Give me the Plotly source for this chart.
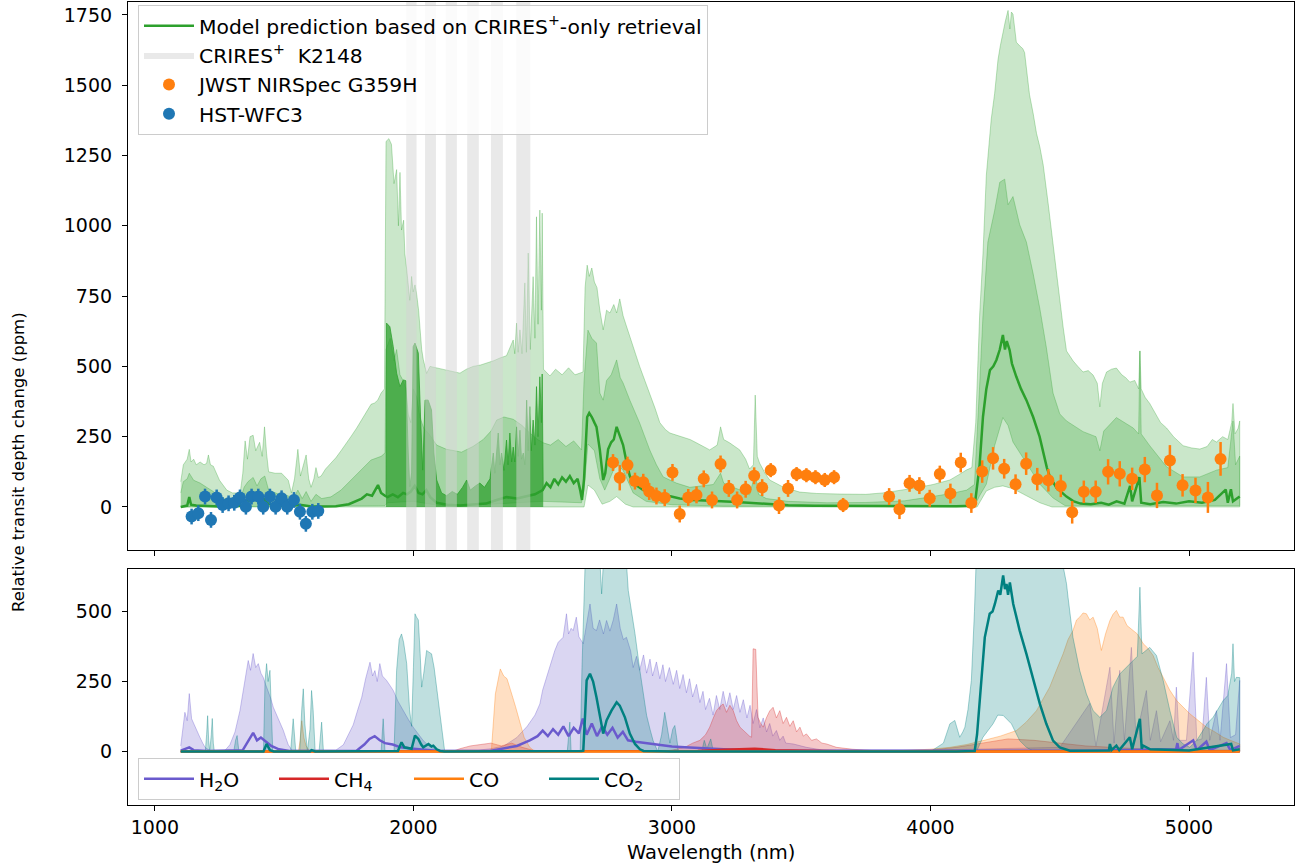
import plotly.graph_objects as go

# ------------------------------------------------------------------ data
# HST-WFC3 points
hst_wl = [1142, 1168, 1194, 1217, 1239, 1262, 1285, 1307, 1329, 1352, 1374,
          1400, 1419, 1445, 1467, 1490, 1512, 1538, 1561, 1584, 1609, 1632]
hst_ppm = [-34, -22, 37, -46, 34, 7, 13, 15, 34, 1, 37,
           37, 1, 37, 1, 31, 1, 25, -17, -60, -17, -14]
hst_err = [28] * len(hst_wl)

# JWST NIRSpec points
jwst_wl = [2772, 2798, 2828, 2857, 2889, 2912, 2940, 2972, 3002, 3030, 3063, 3095,
           3123, 3155, 3188, 3220, 3252, 3285, 3318, 3349, 3382, 3414, 3449, 3482,
           3520, 3555, 3591, 3627, 3662, 3840, 3880, 3919, 3957, 3997, 4036, 4077,
           4117, 4158, 4200, 4242, 4285, 4329, 4370, 4413, 4456, 4504, 4548, 4593,
           4639, 4687, 4732, 4780, 4829, 4876, 4926, 4975, 5025, 5073, 5122]
jwst_ppm = [158, 104, 149, 92, 88, 55, 39, 33, 123, -25, 34, 43,
            100, 25, 153, 66, 25, 63, 111, 69, 131, 5, 66, 117,
            113, 106, 96, 106, 7, 37, -8, 84, 76, 31, 117, 48,
            158, 14, 126, 173, 136, 81, 154, 99, 95, 75, -19, 54,
            54, 125, 118, 100, 133, 41, 165, 77, 59, 34, 171]
jwst_err = [30, 45, 30, 30, 30, 30, 30, 30, 30, 30, 30, 30,
            30, 30, 30, 30, 30, 30, 30, 30, 25, 30, 30, 25,
            25, 25, 25, 25, 25, 30, 35, 30, 30, 30, 30, 35,
            35, 35, 40, 40, 35, 35, 40, 40, 40, 40, 40, 40,
            40, 45, 45, 40, 45, 45, 55, 40, 45, 55, 60]

# Model (CRIRES+-only retrieval): median, 1-sigma and 2-sigma envelopes
med_wl = [1100, 1110, 1125, 1133, 1140, 1160, 1200, 1250, 1300, 1340, 1355, 1370, 1390, 1405,
          1420, 1440, 1480, 1520, 1560, 1600, 1650, 1700, 1750, 1800, 1820, 1840, 1863, 1875,
          1890, 1900, 1920, 1940, 1960, 1975, 1990, 2005, 2020, 2035, 2050, 2065, 2090, 2130,
          2180, 2230, 2280, 2322, 2360, 2400, 2440, 2470, 2500, 2515, 2530, 2545, 2560, 2575,
          2590, 2605, 2620, 2635, 2645, 2652, 2660, 2672, 2680, 2690, 2700, 2708, 2721, 2734,
          2742, 2753, 2765, 2775, 2786, 2798, 2811, 2825, 2837, 2850, 2889, 2940, 2992, 3030,
          3080, 3130, 3190, 3250, 3300, 3370, 3450, 3550, 3700, 3900, 4100, 4165, 4171, 4190,
          4203, 4216, 4230, 4243, 4255, 4268, 4280, 4288, 4295, 4306, 4315, 4332, 4350, 4371,
          4397, 4422, 4434, 4450, 4461, 4487, 4526, 4552, 4580, 4620, 4660, 4690, 4720, 4750,
          4772, 4780, 4808, 4815, 4850, 4900, 4950, 5000, 5050, 5100, 5142, 5150, 5162, 5170, 5196]
med_ppm = [0, 3, 5, 35, 8, 5, 3, 2, 2, 5, 25, 20, 40, 18,
           30, 10, 5, 3, 8, 3, 2, 3, 10, 30, 45, 40, 78, 50,
           40, 35, 45, 35, 50, 45, 55, 75, 50, 45, 60, 35, 15, 8,
           5, 8, 12, 25, 35, 30, 40, 45, 60, 85, 70, 100, 80, 105,
           90, 110, 85, 100, 60, 25, 100, 320, 334, 320, 300, 285, 203, 96,
           120, 205, 230, 240, 285, 250, 220, 156, 110, 85, 60, 50, 37, 30,
           25, 22, 20, 18, 15, 11, 6, 4, 3, 3, 3, 4, 5, 150,
           321, 420, 487, 500, 523, 560, 612, 560, 590, 558, 510, 463, 420, 380,
           320, 250, 200, 140, 110, 69, 37, 21, 12, 10, 15, 8, 20, 12,
           75, 20, 106, 15, 10, 18, 12, 20, 15, 25, 62, 15, 63, 20, 37]

hi1_wl = [1100, 1110, 1125, 1133, 1150, 1175, 1200, 1226, 1250, 1280, 1330, 1345, 1360, 1380,
          1395, 1410, 1425, 1440, 1480, 1516, 1530, 1553, 1570, 1585, 1604, 1623, 1645, 1681,
          1720, 1758, 1800, 1836, 1875, 1890, 1894, 1910, 1925, 1935, 1948, 1960, 1971, 1980,
          1990, 2000, 2013, 2025, 2040, 2060, 2090, 2128, 2160, 2186, 2230, 2270, 2300, 2322,
          2350, 2386, 2420, 2450, 2480, 2503, 2530, 2560, 2590, 2620, 2650, 2660, 2675, 2690,
          2708, 2721, 2734, 2747, 2765, 2786, 2800, 2811, 2837, 2875, 2914, 2940, 2966, 3017,
          3069, 3120, 3160, 3188, 3200, 3236, 3280, 3300, 3322, 3335, 3365, 3450, 3600, 3750,
          3900, 4000, 4080, 4140, 4170, 4190, 4203, 4222, 4248, 4268, 4287, 4300, 4319, 4345,
          4371, 4397, 4423, 4448, 4474, 4500, 4526, 4590, 4640, 4655, 4670, 4719, 4784, 4805,
          4810, 4815, 4848, 4913, 4977, 5042, 5106, 5150, 5170, 5180, 5196]
hi1_ppm = [50, 90, 100, 120, 95, 85, 70, 55, 35, 25, 25, 70, 90, 105,
           75, 100, 110, 60, 45, 40, 20, 60, 30, 55, 20, 45, 30, 36,
           60, 96, 135, 167, 180, 192, 560, 600, 520, 560, 470, 450, 420, 330,
           300, 420, 390, 320, 280, 260, 220, 205, 200, 195, 215, 240, 270, 309,
           320, 312, 290, 263, 240, 228, 220, 240, 215, 235, 203, 450, 629, 600,
           583, 405, 380, 450, 470, 523, 460, 441, 380, 299, 203, 150, 107, 85,
           70, 75, 80, 120, 85, 70, 55, 43, 120, 45, 30, 20, 15, 16,
           22, 36, 48, 60, 80, 430, 680, 942, 1054, 1155, 1166, 1075, 1104, 1004,
           942, 830, 705, 568, 405, 331, 306, 268, 250, 200, 270, 318, 281, 260,
           555, 260, 218, 143, 107, 107, 131, 140, 306, 150, 181]

lo1_wl = [1100, 1890, 1900, 2000, 2100, 2300, 2500, 2650, 2660, 2675, 2700, 2721, 2740, 2786,
          2811, 2850, 2900, 3000, 3200, 4170, 4190, 4216, 4248, 4280, 4300, 4319, 4371, 4423,
          4474, 4520, 5196]
lo1_ppm = [0, 5, 15, 20, 5, 10, 20, 15, 60, 224, 200, 100, 60, 156,
           130, 50, 20, 8, 3, 3, 40, 81, 218, 318, 290, 231, 156, 81,
           32, 5, 5]

hi2_wl = [1100, 1110, 1125, 1133, 1140, 1150, 1160, 1175, 1190, 1200, 1207, 1215, 1226, 1250,
          1278, 1300, 1330, 1340, 1349, 1358, 1368, 1380, 1390, 1405, 1415, 1424, 1432, 1440,
          1465, 1490, 1516, 1528, 1540, 1553, 1563, 1575, 1585, 1595, 1604, 1615, 1623, 1632,
          1643, 1660, 1681, 1700, 1720, 1740, 1758, 1780, 1800, 1820, 1836, 1850, 1862, 1875,
          1888, 1894, 1905, 1915, 1925, 1935, 1942, 1948, 1954, 1962, 1967, 1974, 1980, 1986,
          1993, 1999, 2006, 2012, 2020, 2025, 2032, 2038, 2051, 2064, 2090, 2128, 2160, 2180,
          2205, 2231, 2260, 2283, 2310, 2335, 2360, 2386, 2392, 2399, 2405, 2412, 2420, 2431,
          2437, 2444, 2452, 2463, 2470, 2476, 2482, 2489, 2495, 2498, 2503, 2528, 2550, 2575,
          2600, 2625, 2645, 2656, 2664, 2672, 2680, 2690, 2700, 2710, 2721, 2734, 2747, 2760,
          2775, 2786, 2798, 2811, 2825, 2837, 2856, 2875, 2895, 2914, 2935, 2953, 2975, 2992,
          3020, 3043, 3070, 3095, 3120, 3146, 3175, 3188, 3200, 3223, 3262, 3285, 3300, 3315,
          3322, 3330, 3339, 3360, 3378, 3400, 3430, 3494, 3560, 3650, 3750, 3816, 3880, 3945,
          4010, 4075, 4110, 4140, 4160, 4175, 4190, 4203, 4216, 4235, 4248, 4261, 4270, 4280,
          4290, 4300, 4307, 4313, 4319, 4326, 4332, 4345, 4357, 4364, 4383, 4397, 4410, 4423,
          4436, 4455, 4474, 4487, 4500, 4513, 4526, 4552, 4570, 4590, 4610, 4629, 4645, 4655,
          4665, 4681, 4700, 4719, 4740, 4755, 4771, 4790, 4805, 4810, 4815, 4830, 4848, 4870,
          4890, 4913, 4940, 4977, 5010, 5042, 5070, 5090, 5106, 5130, 5150, 5165, 5170, 5178,
          5190, 5196]
hi2_ppm = [90, 150, 170, 205, 160, 170, 150, 160, 150, 155, 185, 150, 145, 95,
           60, 50, 50, 120, 235, 170, 250, 255, 200, 230, 180, 285, 190, 125,
           120, 120, 95, 50, 100, 205, 110, 150, 185, 100, 70, 100, 140, 105,
           110, 135, 155, 175, 200, 225, 250, 280, 310, 340, 365, 370, 380, 405,
           420, 1300, 1310, 1290, 1150, 1200, 1000, 1190, 985, 1020, 900, 845, 780, 735,
           820, 765, 790, 760, 700, 640, 560, 525, 475, 500, 495, 487, 480, 476,
           490, 500, 505, 511, 520, 530, 538, 594, 545, 654, 550, 630, 545, 797,
           550, 903, 560, 819, 600, 1032, 650, 1056, 700, 1045, 490, 466, 490, 470,
           495, 470, 475, 480, 780, 860, 820, 850, 800, 780, 700, 630, 700, 690,
           720, 690, 740, 680, 640, 605, 550, 500, 450, 405, 350, 300, 275, 263,
           255, 249, 240, 228, 215, 203, 220, 285, 240, 228, 203, 170, 135, 150,
           398, 180, 156, 120, 96, 85, 71, 53, 48, 46, 45, 50, 58, 68,
           80, 96, 115, 132, 140, 300, 680, 900, 1180, 1380, 1470, 1590, 1640, 1690,
           1730, 1766, 1700, 1760, 1753, 1700, 1653, 1640, 1630, 1616, 1466, 1400, 1329, 1280,
           1216, 1080, 930, 840, 743, 640, 555, 519, 500, 480, 485, 469, 440, 356,
           440, 480, 490, 494, 470, 460, 444, 450, 420, 555, 420, 390, 368, 330,
           300, 281, 250, 218, 210, 206, 215, 240, 231, 250, 240, 300, 368, 260,
           280, 306]

lo2_wl = [1100, 2660, 2675, 2700, 2730, 2760, 2786, 2820, 2850, 4180, 4216, 4248, 4280, 4319,
          4371, 4423, 4470, 5196]
lo2_ppm = [0, 0, 78, 60, 10, 20, 37, 10, 0, 0, 57, 70, 75, 65,
           40, 15, 0, 0]

# High-resolution part of the model (densely packed lines in the CRIRES+ range)
dense_wl = [1894, 1896, 1909, 1922, 1935, 1948, 1961, 1971, 1980, 1986, 1993, 1999, 2006, 2019,
            2028, 2036, 2045, 2057, 2070, 2079, 2090, 2109, 2128, 2150, 2170, 2190, 2206, 2220,
            2240, 2257, 2275, 2296, 2309, 2315, 2328, 2335, 2341, 2350, 2360, 2366, 2373, 2380,
            2386, 2392, 2399, 2405, 2412, 2418, 2425, 2431, 2438, 2444, 2450, 2456, 2463, 2470,
            2476, 2482, 2489, 2495, 2498, 2502]
dense_ppm = [40, 654, 641, 570, 476, 428, 452, 449, 192, 72, 121, 570, 583, 547,
             309, 131, 380, 380, 345, 192, 96, 50, 40, 55, 45, 70, 96, 60,
             75, 85, 70, 100, 192, 120, 263, 150, 192, 130, 238, 150, 263, 160,
             213, 160, 285, 180, 273, 170, 192, 150, 380, 200, 357, 200, 309, 220,
             428, 250, 463, 300, 473, 60]

# CRIRES+ K2148 order coverage (nm)
crires_start = [1972, 2045, 2125, 2208, 2300, 2398]
crires_end = [2012, 2087, 2168, 2253, 2346, 2452]

# ---- bottom panel: individual molecule contributions
h2o_hi_wl = [1100, 1108, 1116, 1125, 1133, 1142, 1150, 1155, 1165, 1174, 1185, 1194, 1213, 1270,
             1290, 1310, 1329, 1345, 1361, 1370, 1380, 1390, 1400, 1410, 1419, 1428, 1438, 1448,
             1458, 1467, 1477, 1487, 1497, 1506, 1516, 1530, 1700, 1729, 1748, 1767, 1785, 1800,
             1815, 1832, 1842, 1851, 1860, 1870, 1880, 1896, 1910, 1922, 1940, 1960, 1980, 1999,
             2020, 2038, 2060, 2090, 2250, 2300, 2350, 2400, 2440, 2470, 2489, 2500, 2515, 2530,
             2547, 2560, 2579, 2592, 2600, 2610, 2618, 2630, 2640, 2657, 2670, 2683, 2695, 2708,
             2720, 2735, 2747, 2760, 2773, 2786, 2800, 2812, 2824, 2840, 2850, 2863, 2875, 2890,
             2902, 2915, 2925, 2940, 2953, 2965, 2975, 2990, 3005, 3018, 3030, 3043, 3056, 3068,
             3080, 3095, 3108, 3120, 3130, 3145, 3159, 3172, 3185, 3198, 3211, 3224, 3237, 3250,
             3263, 3276, 3290, 3302, 3314, 3327, 3340, 3353, 3366, 3378, 3390, 3404, 3417, 3430,
             3440, 3469, 3520, 3585, 4000, 4500, 4616, 4640, 4694, 4710, 4732, 4750, 4777, 4795,
             4835, 4850, 4874, 4890, 4926, 4940, 4951, 4962, 4990, 5016, 5030, 5050, 5067, 5080,
             5106, 5120, 5145, 5160, 5180, 5196]
h2o_hi = [20, 90, 140, 110, 207, 117, 100, 87, 70, 51, 30, 15, 3, 3,
          24, 70, 146, 230, 325, 290, 350, 300, 314, 280, 265, 240, 218, 190,
          158, 140, 117, 95, 75, 50, 24, 5, 5, 24, 60, 95, 150, 194,
          260, 319, 270, 289, 250, 314, 270, 254, 235, 218, 180, 146, 115, 87,
          60, 39, 20, 5, 5, 10, 20, 50, 90, 130, 170, 220, 265, 310,
          361, 390, 408, 492, 420, 440, 432, 480, 410, 385, 450, 527, 440, 432,
          470, 420, 468, 430, 470, 527, 440, 400, 408, 360, 300, 340, 290, 345,
          280, 330, 270, 320, 260, 310, 250, 300, 240, 290, 225, 275, 210, 260,
          195, 240, 175, 215, 150, 190, 130, 200, 150, 215, 160, 210, 150, 200,
          140, 185, 120, 165, 100, 150, 85, 120, 70, 100, 55, 75, 40, 55,
          30, 27, 15, 5, 5, 15, 172, 20, 301, 30, 290, 40, 372, 50,
          218, 40, 146, 35, 110, 40, 230, 40, 40, 355, 40, 45, 265, 40,
          146, 40, 314, 50, 60, 254]
h2o_med_wl = [1100, 1120, 1133, 1150, 1200, 1340, 1360, 1380, 1395, 1410, 1430, 1450, 1480, 1520,
              1780, 1810, 1830, 1850, 1870, 1890, 1920, 1950, 2000, 2050, 2100, 2300, 2400, 2450,
              2480, 2500, 2520, 2540, 2560, 2580, 2600, 2620, 2640, 2655, 2670, 2690, 2710, 2730,
              2750, 2770, 2790, 2810, 2830, 2860, 2900, 2950, 3000, 3050, 3100, 3200, 3300, 3400,
              4600, 4950, 4955, 4960, 5016, 5030, 5067, 5080, 5145, 5160, 5196]
h2o_med = [3, 10, 15, 5, 2, 5, 35, 67, 40, 50, 35, 20, 8, 2,
           3, 25, 45, 55, 40, 30, 25, 15, 10, 5, 2, 3, 20, 40,
           55, 75, 55, 80, 60, 90, 55, 85, 65, 118, 60, 100, 55, 90,
           60, 85, 50, 70, 40, 35, 30, 25, 18, 15, 12, 8, 5, 3,
           3, 8, 30, 5, 40, 5, 35, 5, 30, 5, 20]

ch4_hi_wl = [1100, 2150, 2180, 2220, 2260, 2300, 2340, 2380, 2420, 2460, 2500, 2950, 3000, 3050,
             3080, 3108, 3130, 3146, 3160, 3172, 3185, 3198, 3211, 3224, 3237, 3250, 3263, 3276,
             3288, 3300, 3308, 3314, 3324, 3333, 3343, 3353, 3365, 3378, 3391, 3404, 3417, 3430,
             3443, 3456, 3469, 3482, 3495, 3508, 3520, 3540, 3559, 3580, 3598, 3636, 3700, 3800,
             4000, 4100, 4200, 4300, 4400, 4500, 4600, 4700, 4800, 4900, 5196]
ch4_hi = [0, 0, 10, 20, 25, 30, 20, 30, 15, 5, 0, 0, 5, 15,
          30, 40, 60, 87, 120, 146, 160, 170, 140, 165, 146, 110, 87, 75,
          63, 55, 51, 367, 365, 122, 100, 87, 120, 145, 158, 120, 146, 100,
          122, 90, 110, 70, 87, 55, 63, 40, 45, 30, 27, 15, 8, 2,
          5, 15, 30, 45, 40, 30, 20, 15, 10, 5, 5]
ch4_med_wl = [1100, 3100, 3200, 3320, 3400, 3550, 3700, 5196]
ch4_med = [0, 2, 6, 10, 5, 2, 0, 0]

co_hi_wl = [1100, 1555, 1562, 1568, 1576, 1585, 1600, 2290, 2302, 2317, 2336, 2349, 2362, 2373,
            2384, 2395, 2406, 2417, 2428, 2450, 2470, 3800, 3848, 3996, 4075, 4140, 4203, 4270,
            4333, 4370, 4410, 4435, 4461, 4487, 4513, 4532, 4551, 4565, 4577, 4590, 4603, 4616,
            4629, 4645, 4661, 4677, 4694, 4706, 4719, 4732, 4745, 4760, 4784, 4800, 4823, 4840,
            4861, 4880, 4900, 4925, 4952, 4975, 5003, 5030, 5067, 5100, 5132, 5160, 5196]
co_hi = [0, 0, 40, 110, 50, 20, 0, 0, 10, 206, 295, 270, 260, 230,
         194, 160, 123, 85, 51, 15, 0, 0, 2, 8, 15, 25, 39, 55,
         75, 105, 146, 185, 230, 290, 349, 400, 432, 470, 480, 495, 492, 470,
         480, 440, 361, 420, 468, 490, 504, 480, 480, 450, 432, 420, 385, 370,
         343, 300, 265, 220, 182, 160, 135, 115, 87, 70, 51, 40, 27]
co_med_wl = [1100, 5196]
co_med = [0, 0]

co2_hi_wl = [1100, 1195, 1200, 1204, 1208, 1212, 1218, 1222, 1226, 1230, 1305, 1312, 1318, 1325,
             1420, 1426, 1432, 1438, 1445, 1450, 1456, 1525, 1535, 1545, 1560, 1568, 1574, 1580,
             1590, 1600, 1606, 1612, 1620, 1635, 1645, 1652, 1875, 1883, 1890, 1925, 1935, 1945,
             1954, 1962, 1974, 1985, 1993, 2000, 2006, 2012, 2019, 2026, 2032, 2040, 2051, 2060,
             2070, 2080, 2090, 2100, 2109, 2121, 2595, 2600, 2605, 2610, 2645, 2652, 2660, 2670,
             2685, 2700, 2715, 2722, 2728, 2735, 2745, 2760, 2780, 2800, 2815, 2831, 2844, 2857,
             2876, 2890, 2902, 2915, 2927, 2945, 2960, 2972, 2982, 2992, 3003, 3011, 3018, 3025,
             3115, 3125, 3135, 3150, 3160, 4000, 4050, 4075, 4094, 4105, 4113, 4125, 4133, 4145,
             4158, 4170, 4178, 4190, 4210, 4250, 4300, 4350, 4400, 4450, 4480, 4505, 4526, 4532,
             4551, 4577, 4603, 4629, 4655, 4681, 4706, 4732, 4758, 4784, 4800, 4810, 4818, 4848,
             4874, 4900, 4926, 4952, 4977, 5003, 5030, 5054, 5070, 5093, 5110, 5132, 5150, 5165,
             5170, 5176, 5183, 5196]
co2_hi = [0, 0, 60, 128, 40, 0, 60, 118, 30, 0, 0, 40, 57, 0,
          0, 250, 314, 250, 290, 120, 0, 0, 117, 0, 0, 150, 224, 100,
          0, 80, 218, 150, 0, 0, 105, 0, 0, 117, 0, 0, 290, 400,
          420, 390, 314, 150, 90, 300, 492, 480, 470, 350, 230, 280, 361, 355,
          349, 300, 225, 150, 87, 0, 0, 60, 105, 0, 0, 300, 700, 850,
          920, 900, 800, 650, 563, 680, 850, 900, 920, 880, 800, 575, 500, 421,
          289, 200, 129, 80, 39, 0, 60, 140, 90, 30, 80, 93, 50, 0,
          0, 40, 10, 45, 0, 0, 30, 99, 111, 80, 51, 70, 87, 150,
          254, 500, 900, 1300, 1600, 1700, 1750, 1700, 1500, 1200, 900, 700, 600, 551,
          408, 290, 206, 146, 122, 146, 230, 277, 301, 325, 340, 587, 349, 372,
          343, 254, 146, 51, 27, 15, 40, 75, 100, 122, 150, 182, 200, 280,
          385, 250, 265, 264]
co2_lo_wl = [1100, 4178, 4203, 4242, 4260, 4281, 4300, 4313, 4345, 4371, 4400, 5196]
co2_lo = [0, 0, 51, 99, 130, 129, 110, 99, 39, 15, 0, 0]
co2_med_wl = [1100, 1420, 1432, 1445, 1460, 1600, 1606, 1620, 1940, 1954, 1965, 1993, 2006, 2019,
              2030, 2038, 2058, 2070, 2077, 2090, 2103, 2120, 2650, 2657, 2665, 2670, 2683, 2695,
              2708, 2721, 2734, 2747, 2766, 2786, 2798, 2818, 2837, 2857, 2876, 2890, 3000, 4100,
              4171, 4180, 4190, 4200, 4210, 4229, 4240, 4249, 4262, 4270, 4281, 4288, 4294, 4300,
              4307, 4320, 4345, 4371, 4397, 4423, 4448, 4474, 4500, 4539, 4690, 4694, 4700, 4719,
              4730, 4771, 4780, 4810, 4817, 4823, 4850, 5000, 5163, 5170, 5196]
co2_med = [0, 0, 27, 5, 0, 0, 5, 0, 2, 33, 15, 10, 57, 45,
           25, 15, 27, 18, 21, 8, 2, 0, 2, 3, 150, 254, 278, 250,
           194, 135, 64, 111, 146, 176, 164, 122, 64, 27, 8, 2, 0, 0,
           2, 60, 170, 300, 408, 492, 500, 527, 575, 560, 629, 580, 599, 560,
           604, 527, 432, 349, 254, 170, 99, 39, 15, 3, 4, 27, 5, 21,
           5, 51, 8, 117, 10, 21, 8, 4, 27, 4, 8]

# ------------------------------------------------------------------ style
GREEN = '#2ca02c'
TOP_RANGE = [-153, 1796]
BOT_RANGE = [-191, 652]
X_RANGE = [896, 5406]
FONT = 'DejaVu Sans'
LEG_FONT = 20.3


def band(wl_hi, v_hi, wl_lo, v_lo):
    return list(wl_hi) + list(wl_lo)[::-1], list(v_hi) + list(v_lo)[::-1]


fig = go.Figure()

# --- top panel: model envelopes
bx, by = band(hi2_wl, hi2_ppm, lo2_wl, lo2_ppm)
fig.add_trace(go.Scatter(x=bx, y=by, fill='toself', fillcolor='rgba(44,160,44,0.25)',
                         line=dict(color='rgba(44,160,44,0.3)', width=1), mode='lines',
                         showlegend=False, hoverinfo='skip', xaxis='x', yaxis='y'))
bx, by = band(hi1_wl, hi1_ppm, lo1_wl, lo1_ppm)
fig.add_trace(go.Scatter(x=bx, y=by, fill='toself', fillcolor='rgba(44,160,44,0.25)',
                         line=dict(color='rgba(44,160,44,0.3)', width=1), mode='lines',
                         showlegend=False, hoverinfo='skip', xaxis='x', yaxis='y'))
fig.add_trace(go.Scatter(x=dense_wl, y=dense_ppm, fill='tozeroy', fillcolor='rgba(44,160,44,0.72)',
                         line=dict(color='rgba(44,160,44,0.75)', width=1), mode='lines',
                         showlegend=False, hoverinfo='skip', xaxis='x', yaxis='y'))
fig.add_trace(go.Scatter(x=med_wl, y=med_ppm, mode='lines', line=dict(color=GREEN, width=2.5),
                         name='Model prediction based on CRIRES<sup>+</sup>-only retrieval',
                         legend='legend', legendrank=1, xaxis='x', yaxis='y'))

# CRIRES+ coverage bands
cx, cy = [], []
for a, b in zip(crires_start, crires_end):
    cx += [a, a, b, b, a, None]
    cy += [TOP_RANGE[0], TOP_RANGE[1], TOP_RANGE[1], TOP_RANGE[0], TOP_RANGE[0], None]
fig.add_trace(go.Scatter(x=cx, y=cy, fill='toself', fillcolor='rgba(211,211,211,0.5)',
                         line=dict(width=0, color='rgba(0,0,0,0)'), mode='lines',
                         name='CRIRES<sup>+</sup>  K2148', legend='legend', legendrank=2,
                         hoverinfo='skip', xaxis='x', yaxis='y'))

fig.add_trace(go.Scatter(x=jwst_wl, y=jwst_ppm, mode='markers',
                         marker=dict(color='#ff7f0e', size=12),
                         error_y=dict(type='data', array=jwst_err, color='#ff7f0e', thickness=2.5, width=0),
                         name='JWST NIRSpec G359H', legend='legend', legendrank=3,
                         xaxis='x', yaxis='y'))
fig.add_trace(go.Scatter(x=hst_wl, y=hst_ppm, mode='markers',
                         marker=dict(color='#1f77b4', size=12),
                         error_y=dict(type='data', array=hst_err, color='#1f77b4', thickness=2.5, width=0),
                         name='HST-WFC3', legend='legend', legendrank=4,
                         xaxis='x', yaxis='y'))

# --- bottom panel: molecules
mols = [
    ('H<sub>2</sub>O', (106, 90, 205), h2o_hi_wl, h2o_hi, [1100, 5196], [0, 0], h2o_med_wl, h2o_med),
    ('CH<sub>4</sub>', (214, 39, 40), ch4_hi_wl, ch4_hi, [1100, 5196], [0, 0], ch4_med_wl, ch4_med),
    ('CO', (255, 127, 14), co_hi_wl, co_hi, [1100, 5196], [0, 0], co_med_wl, co_med),
    ('CO<sub>2</sub>', (0, 128, 128), co2_hi_wl, co2_hi, co2_lo_wl, co2_lo, co2_med_wl, co2_med),
]
for name, (r, g, b), hw, hv, lw, lv, mw, mv in mols:
    bx, by = band(hw, hv, lw, lv)
    fig.add_trace(go.Scatter(x=bx, y=by, fill='toself', fillcolor=f'rgba({r},{g},{b},0.25)',
                             line=dict(color=f'rgba({r},{g},{b},0.35)', width=1), mode='lines',
                             showlegend=False, hoverinfo='skip', xaxis='x2', yaxis='y2'))
for i, (name, (r, g, b), hw, hv, lw, lv, mw, mv) in enumerate(mols):
    fig.add_trace(go.Scatter(x=mw, y=mv, mode='lines', line=dict(color=f'rgb({r},{g},{b})', width=2.5),
                             name=name, legend='legend2', legendrank=i + 1,
                             xaxis='x2', yaxis='y2'))

# ------------------------------------------------------------------ layout
PL, PR, PT, PB = 128, 7, 2, 62
W, H = 1301, 867
ph = H - PT - PB
pw = W - PL - PR


def py(px_y):
    return (H - PB - px_y) / ph


def pxx(px_x):
    return (px_x - PL) / pw


axis_common = dict(showline=True, linecolor='black', linewidth=1.2, mirror=True,
                   ticks='outside', ticklen=5, tickwidth=1.2, tickcolor='black',
                   showgrid=False, zeroline=False, tickfont=dict(size=19, family=FONT))

fig.update_layout(
    width=W, height=H,
    margin=dict(l=PL, r=PR, t=PT, b=PB),
    paper_bgcolor='white', plot_bgcolor='white',
    font=dict(family=FONT, size=19, color='black'),
    xaxis=dict(domain=[0, 1], anchor='y', range=X_RANGE, tickvals=[1000, 2000, 3000, 4000, 5000],
               showticklabels=False, **axis_common),
    xaxis2=dict(domain=[0, 1], anchor='y2', range=X_RANGE, matches='x',
                tickvals=[1000, 2000, 3000, 4000, 5000], ticklabelstandoff=0, **axis_common),
    yaxis=dict(domain=[py(550), 1], anchor='x', range=TOP_RANGE,
               tickvals=[0, 250, 500, 750, 1000, 1250, 1500, 1750], ticklabelstandoff=6, **axis_common),
    yaxis2=dict(domain=[0, py(569)], anchor='x2', range=BOT_RANGE,
                tickvals=[0, 250, 500], ticklabelstandoff=6, **axis_common),
    legend=dict(x=pxx(138), y=py(5), xanchor='left', yanchor='top',
                bgcolor='rgba(255,255,255,0.8)', bordercolor='#cccccc', borderwidth=1,
                font=dict(size=LEG_FONT, family=FONT), itemwidth=50, tracegroupgap=0),
    legend2=dict(x=pxx(138), y=py(800), xanchor='left', yanchor='bottom', orientation='h',
                 bgcolor='rgba(255,255,255,0.8)', bordercolor='#cccccc', borderwidth=1,
                 font=dict(size=LEG_FONT, family=FONT), itemwidth=50,
                 entrywidth=70, entrywidthmode='pixels'),
    annotations=[
        dict(text='Wavelength (nm)', x=0.5, y=py(852), xref='paper', yref='paper',
             showarrow=False, xanchor='center', yanchor='middle', font=dict(size=19.5, family=FONT)),
        dict(text='Relative transit depth change (ppm)', x=pxx(18), y=py(462), xref='paper',
             yref='paper', showarrow=False, textangle=-90, xanchor='center', yanchor='middle',
             font=dict(size=16.5, family=FONT)),
    ],
)

fig.write_html('out.html')
